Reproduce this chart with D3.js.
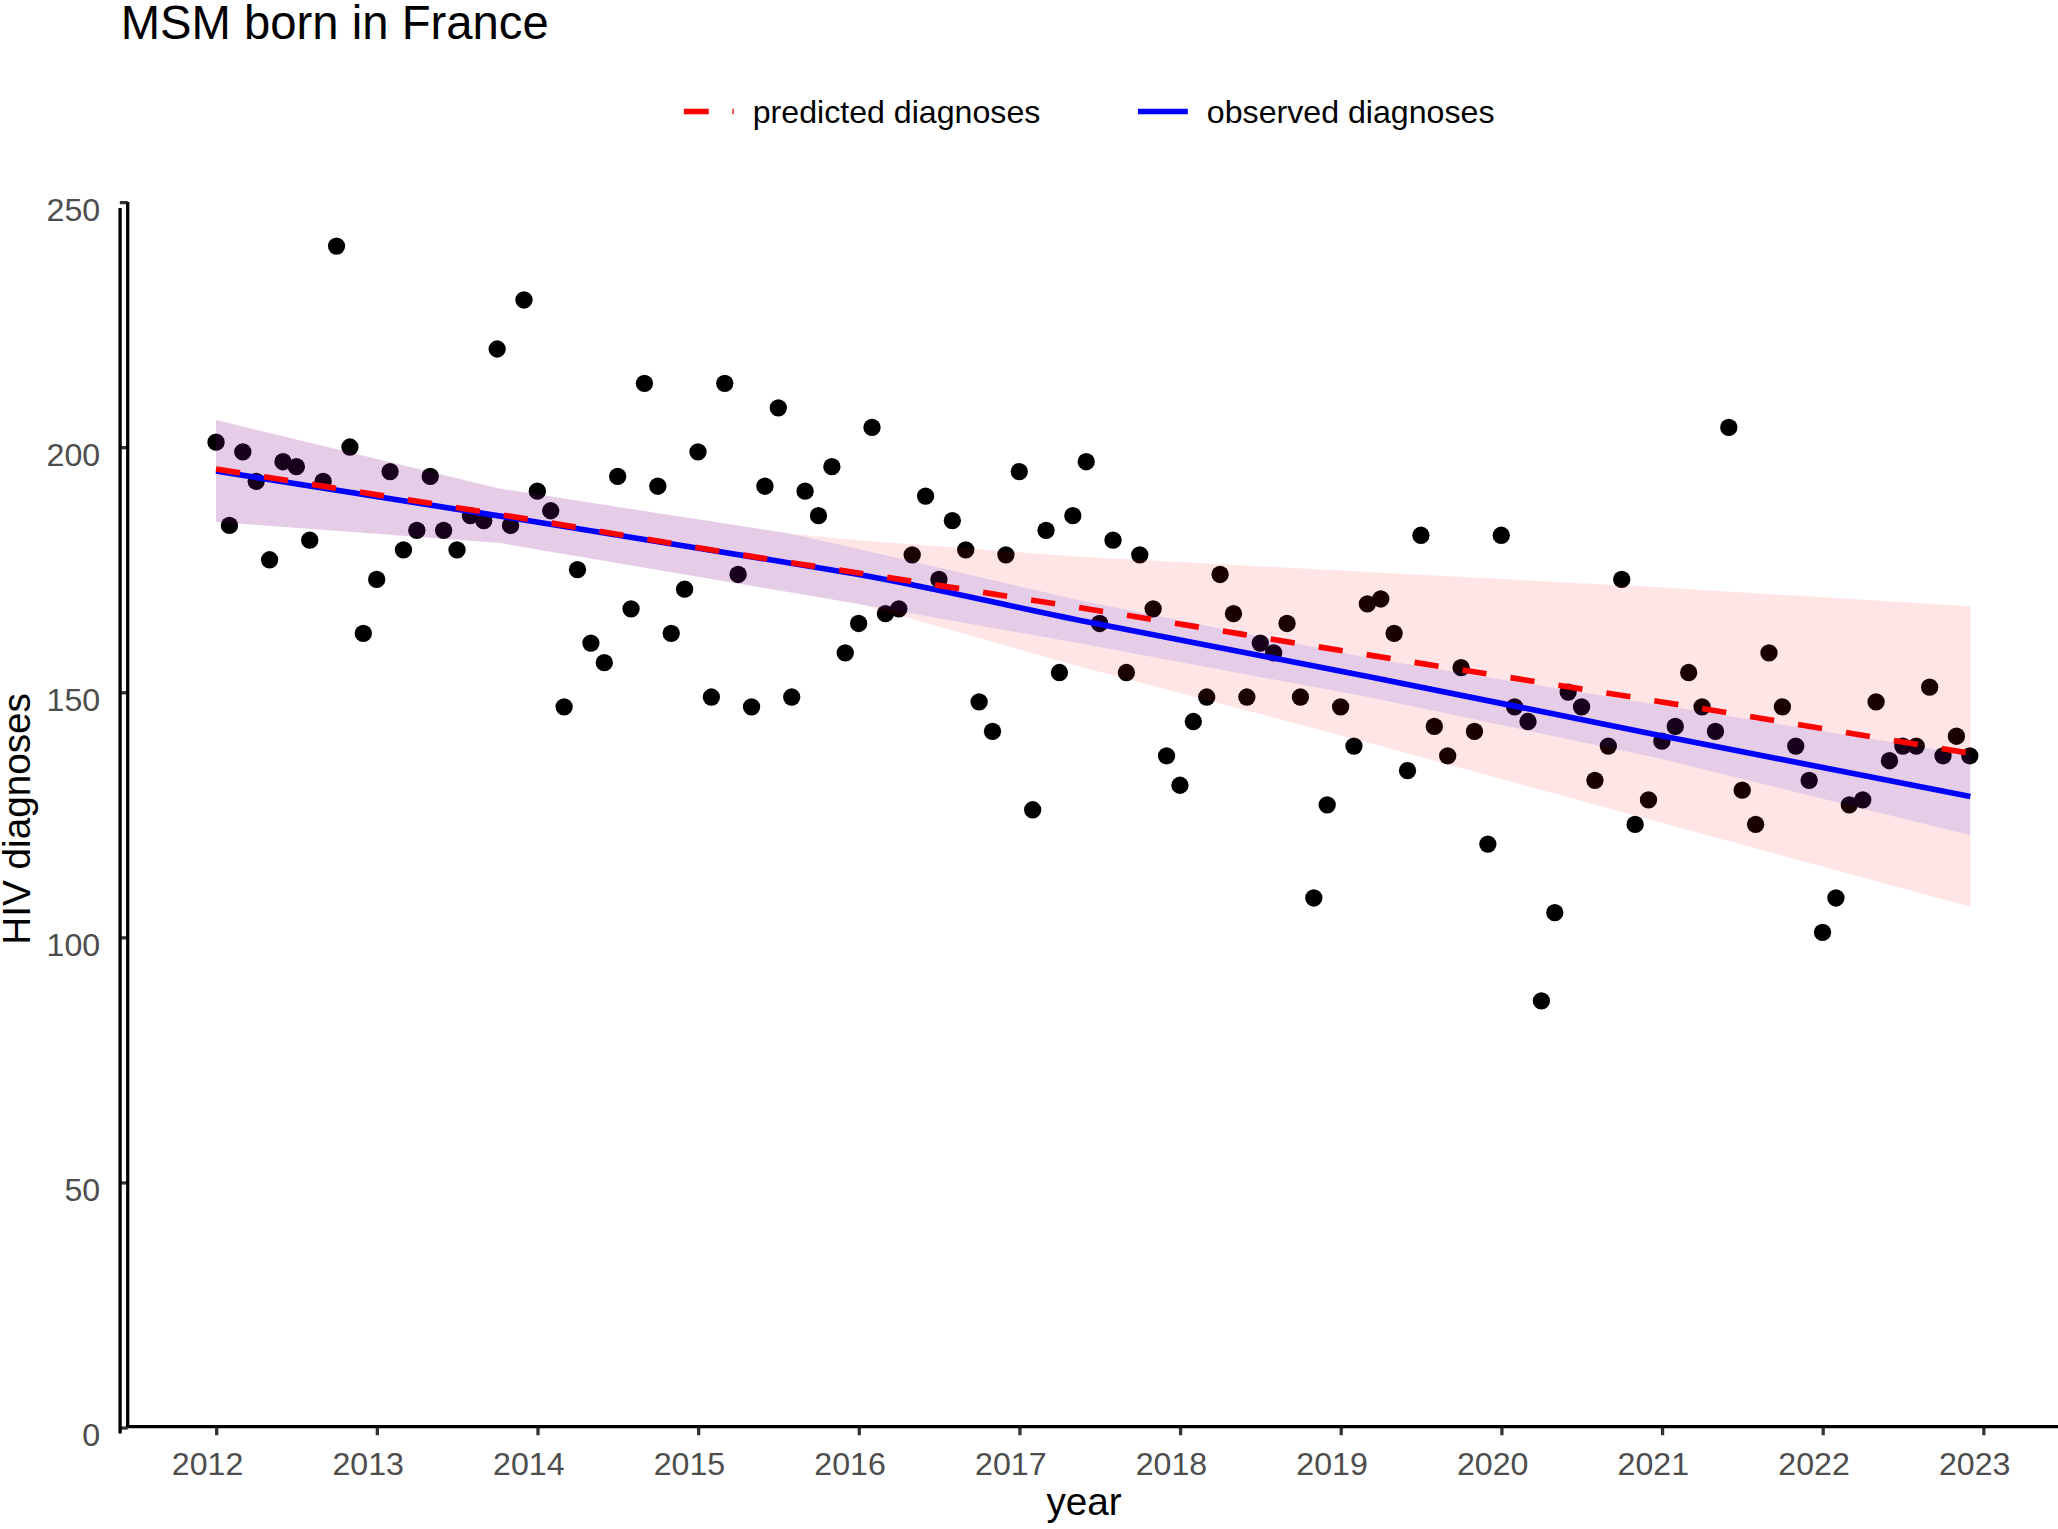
<!DOCTYPE html>
<html>

<head>
  <meta charset="UTF-8">
  <title>MSM born in France</title>
  <script src="https://d3js.org/d3.v7.min.js"></script>
  <style>
    body { margin: 0; background: white; }
    svg { display: block; font-family: "Liberation Sans", Arial, Helvetica, sans-serif; }
    .tick text { fill: #4d4d4d; font-size: 24.5px; }
    .tick line { stroke: #333333; stroke-width: 2.5; }
  </style>
</head>

<body>
  <svg id="chart" width="2058" height="1529" viewBox="0 0 1568 1166" preserveAspectRatio="none"></svg>

  <script>
    // monthly HIV diagnoses, Jan 2012 .. Dec 2022
    const startYear = 2012;
    const diagnoses = [
      201, 184, 199, 193, 177, 197, 196, 181, 193, 241, 200, 162,   // 2012
      173, 195, 179, 183, 194, 183, 179, 186, 185, 220, 184, 230,   // 2013
      191, 187, 147, 175, 160, 156, 194, 167, 213, 192, 162, 171,   // 2014
      199, 149, 213, 174, 147, 192, 208, 149, 191, 186, 196, 158,   // 2015
      164, 204, 166, 167, 178, 190, 173, 185, 179, 148, 142, 178,   // 2016
      195, 126, 183, 154, 186, 197, 164, 181, 154, 178, 167, 137,   // 2017
      131, 144, 149, 174, 166, 149, 160, 158, 164, 149, 108, 127,   // 2018
      147, 139, 168, 169, 162, 134, 182, 143, 137, 155, 142, 119,   // 2019
      182, 147, 144, 87, 105, 150, 147, 132, 139, 173, 123, 128,    // 2020
      140, 143, 154, 147, 142, 204, 130, 123, 158, 147, 139, 132,   // 2021
      101, 108, 127, 128, 148, 136, 139, 139, 151, 137, 141, 137    // 2022
    ];

    // observed trend (blue) and its band
    const observedYears = [2012, 2013.77, 2015.58, 2016.0, 2017.38, 2019.17, 2020.98, 2022.92];
    const observedFit = [195.1, 185.9, 176.3, 174.0, 164.6, 153.2, 141.2, 128.7];
    const observedLow = [184.7, 180.4, 170.3, 168.0, 159.9, 149.0, 136.5, 120.8];
    const observedHigh = [205.5, 191.5, 182.3, 179.2, 168.7, 157.0, 147.4, 137.2];

    // predicted trend (red dashed) and its band
    const predictedYears = [2012, 2013.77, 2015.58, 2016.0, 2017.38, 2019.17, 2020.98, 2022.92];
    const predictedFit = [195.5, 186.2, 176.4, 174.3, 167.2, 157.6, 148.1, 137.5];
    const predictedLow = [184.7, 180.4, 170.3, 168.0, 155.2, 139.7, 123.5, 106.2];
    const predictedHigh = [205.5, 191.5, 182.3, 181.0, 177.6, 174.5, 171.4, 167.5];

    const xTicks = [2012, 2013, 2014, 2015, 2016, 2017, 2018, 2019, 2020, 2021, 2022, 2023];
    const yTicks = [0, 50, 100, 150, 200, 250];

    const svg = d3.select("svg#chart");

    // scales (in the 1568 x 1166 view box)
    const x = d3.scaleLinear().domain([2012, 2023]).range([164.6, 1511]);
    const y = d3.scaleLinear().domain([0, 250]).range([1088.5, 154]);

    const points = diagnoses.map((v, i) => ({ t: startYear + i / 12, v: v }));

    // points first, bands drawn over them
    svg.append("g").selectAll("circle")
      .data(points)
      .join("circle")
      .attr("cx", d => x(d.t))
      .attr("cy", d => y(d.v))
      .attr("r", 6.6)
      .attr("fill", "black");

    const area = d3.area()
      .x(d => x(d.t))
      .y0(d => y(d.lo))
      .y1(d => y(d.hi));

    const line = d3.line()
      .x(d => x(d.t))
      .y(d => y(d.v))
      .curve(d3.curveMonotoneX);

    const predBand = predictedYears.map((t, i) => ({ t: t, lo: predictedLow[i], hi: predictedHigh[i] }));
    const obsBand = observedYears.map((t, i) => ({ t: t, lo: observedLow[i], hi: observedHigh[i] }));

    svg.append("path").datum(predBand)
      .attr("d", area)
      .attr("fill", "red")
      .attr("fill-opacity", 0.1);

    svg.append("path").datum(obsBand)
      .attr("d", area)
      .attr("fill", "blue")
      .attr("fill-opacity", 0.1);

    svg.append("path")
      .datum(observedYears.map((t, i) => ({ t: t, v: observedFit[i] })))
      .attr("d", line)
      .attr("fill", "none")
      .attr("stroke", "blue")
      .attr("stroke-width", 4.3);

    svg.append("path")
      .datum(predictedYears.map((t, i) => ({ t: t, v: predictedFit[i] })))
      .attr("d", line)
      .attr("fill", "none")
      .attr("stroke", "red")
      .attr("stroke-width", 4.3)
      .attr("stroke-dasharray", "18.5 18.5");

    // x axis
    const bottomAxis = d3.axisBottom(x)
      .tickValues(xTicks)
      .tickFormat(d3.format("d"))
      .tickSize(6.5)
      .tickPadding(13)
      .tickSizeOuter(0);

    const xg = svg.append("g")
      .attr("transform", "translate(0,1088)")
      .call(bottomAxis);
    xg.select(".domain").remove();
    xg.selectAll(".tick text").attr("x", -7);
    xg.append("line")
      .attr("x1", 96).attr("x2", 1568)
      .attr("y1", 0).attr("y2", 0)
      .attr("stroke", "black").attr("stroke-width", 2.5);

    // y axis (double rule as in the picture)
    const leftAxis = d3.axisLeft(y)
      .tickValues(yTicks)
      .tickSize(6)
      .tickPadding(15)
      .tickSizeOuter(0);

    const yg = svg.append("g")
      .attr("transform", "translate(97.3,0)")
      .call(leftAxis);
    yg.select(".domain").remove();
    yg.selectAll(".tick text").attr("y", 6);
    yg.append("line")
      .attr("x1", 0).attr("x2", 0)
      .attr("y1", y(250)).attr("y2", y(0))
      .attr("stroke", "black").attr("stroke-width", 2.5);
    yg.append("line")
      .attr("x1", -5.8).attr("x2", -5.8)
      .attr("y1", y(250) + 4.7).attr("y2", y(0) + 4.7)
      .attr("stroke", "black").attr("stroke-width", 2.5);

    // titles
    svg.append("text")
      .attr("x", 92).attr("y", 30)
      .attr("font-size", 36)
      .attr("fill", "black")
      .text("MSM born in France");

    svg.append("text")
      .attr("x", 826).attr("y", 1155)
      .attr("text-anchor", "middle")
      .attr("font-size", 29.5)
      .attr("fill", "black")
      .text("year");

    svg.append("text")
      .attr("transform", "translate(23,624.5) rotate(-90)")
      .attr("text-anchor", "middle")
      .attr("font-size", 29.5)
      .attr("fill", "black")
      .text("HIV diagnoses");

    // legend
    const legendItems = [
      { label: "predicted diagnoses", color: "red", dash: "19 18", x: 521 },
      { label: "observed diagnoses", color: "blue", dash: null, x: 867 }
    ];

    const legend = svg.append("g").attr("id", "legend");
    legendItems.forEach(item => {
      legend.append("line")
        .attr("x1", item.x).attr("x2", item.x + 38)
        .attr("y1", 85).attr("y2", 85)
        .attr("stroke", item.color)
        .attr("stroke-width", 4.3)
        .attr("stroke-dasharray", item.dash);
      legend.append("text")
        .attr("x", item.x + 52.5).attr("y", 93.5)
        .attr("font-size", 24.5)
        .attr("fill", "black")
        .text(item.label);
    });
  </script>
</body>

</html>
